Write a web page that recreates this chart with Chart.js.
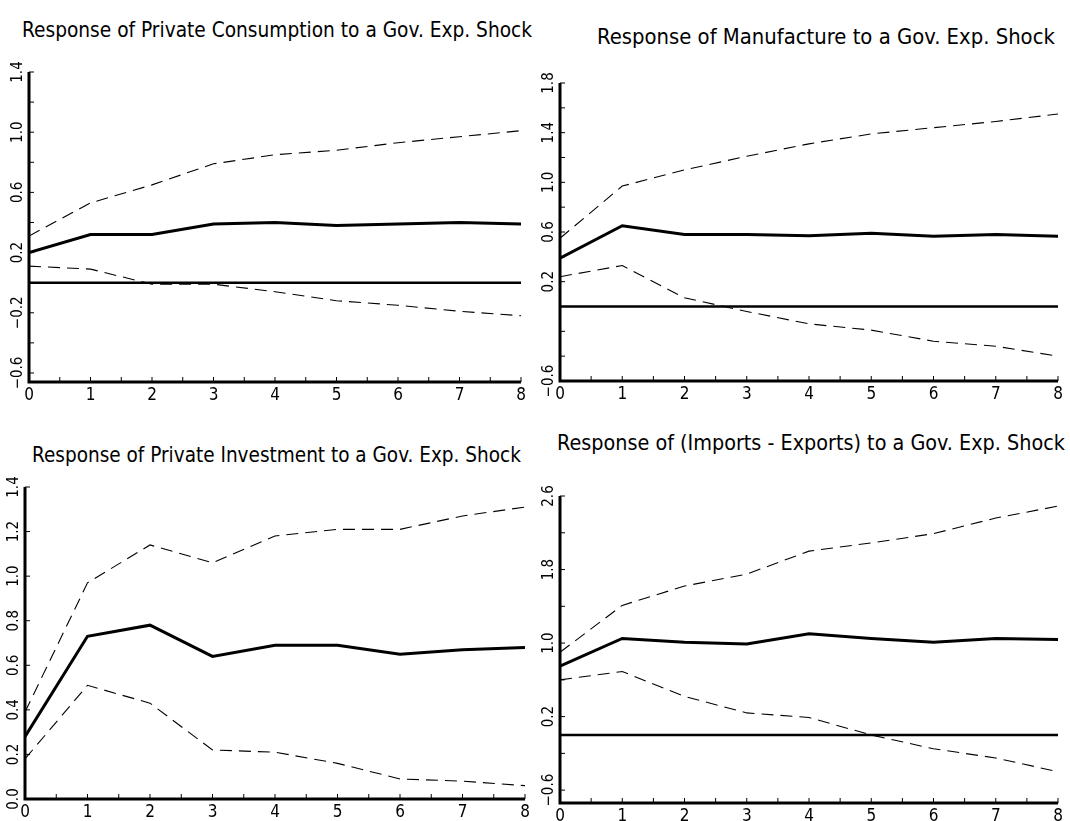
<!DOCTYPE html>
<html>
<head>
<meta charset="utf-8">
<script src="https://cdn.jsdelivr.net/npm/chart.js@4.4.0/dist/chart.umd.min.js"></script>
<style>
  body { margin: 0; background: #fff; width: 1070px; height: 821px; position: relative; overflow: hidden; }
  .panel { position: absolute; }
  .title {
    position: absolute; white-space: nowrap; color: #000; transform-origin: 0 50%;
    font-family: "Liberation Sans Narrow", "DejaVu Sans Condensed", "DejaVu Sans", sans-serif;
    font-stretch: condensed; font-size: 21px; line-height: 24px;
  }
</style>
</head>
<body>
<div class="title" data-w="510" style="left:22px;top:18px">Response of Private Consumption to a Gov. Exp. Shock</div>
<div class="title" data-w="458" style="left:597px;top:25px">Response of Manufacture to a Gov. Exp. Shock</div>
<div class="title" data-w="489" style="left:32px;top:443px">Response of Private Investment to a Gov. Exp. Shock</div>
<div class="title" data-w="508" style="left:557px;top:431px">Response of (Imports - Exports) to a Gov. Exp. Shock</div>

<div class="panel" style="left:0;top:0;width:545px;height:410px"><canvas id="c1"></canvas></div>
<div class="panel" style="left:535px;top:0;width:535px;height:410px"><canvas id="c2"></canvas></div>
<div class="panel" style="left:0;top:410px;width:545px;height:411px"><canvas id="c3"></canvas></div>
<div class="panel" style="left:535px;top:410px;width:535px;height:411px"><canvas id="c4"></canvas></div>

<script>
const horizons = [0, 1, 2, 3, 4, 5, 6, 7, 8];

// private consumption
const consResp  = [0.20, 0.32, 0.32, 0.39, 0.40, 0.38, 0.39, 0.40, 0.39];
const consUpper = [0.31, 0.53, 0.65, 0.79, 0.85, 0.88, 0.93, 0.97, 1.01];
const consLower = [0.11, 0.09, -0.01, -0.01, -0.06, -0.12, -0.15, -0.19, -0.22];
const consTicks = [1.4, 1.0, 0.6, 0.2, -0.2, -0.6];

// manufacture
const manuResp  = [0.39, 0.65, 0.58, 0.58, 0.57, 0.59, 0.565, 0.58, 0.565];
const manuUpper = [0.55, 0.97, 1.10, 1.21, 1.31, 1.39, 1.44, 1.49, 1.55];
const manuLower = [0.24, 0.33, 0.07, -0.04, -0.14, -0.19, -0.28, -0.32, -0.40];
const manuTicks = [1.8, 1.4, 1.0, 0.6, 0.2, -0.6];

// private investment
const invResp  = [0.28, 0.73, 0.78, 0.64, 0.69, 0.69, 0.65, 0.67, 0.68];
const invUpper = [0.39, 0.97, 1.14, 1.06, 1.18, 1.21, 1.21, 1.27, 1.31];
const invLower = [0.18, 0.51, 0.43, 0.22, 0.21, 0.16, 0.09, 0.08, 0.06];
const invTicks = [1.4, 1.2, 1.0, 0.8, 0.6, 0.4, 0.2, 0.0];

// imports - exports
const nxResp  = [0.75, 1.05, 1.01, 0.99, 1.10, 1.05, 1.01, 1.05, 1.04];
const nxUpper = [0.90, 1.41, 1.62, 1.75, 2.00, 2.09, 2.19, 2.36, 2.49];
const nxLower = [0.60, 0.69, 0.42, 0.24, 0.19, 0.00, -0.15, -0.25, -0.40];
const nxTicks = [2.6, 1.8, 1.0, 0.2, -0.6];

const FONT = "'Liberation Sans Narrow', 'DejaVu Sans Condensed', 'DejaVu Sans', sans-serif";

const fmt = v => (v < 0 ? "\u2212" : "") + Math.abs(v).toFixed(1);

// stretch titles to the width they have in the original
document.querySelectorAll('.title').forEach(el => {
  const w = +el.dataset.w;
  el.style.transform = `scaleX(${w / el.offsetWidth})`;
});

// axis lines, inward ticks, zero line and rotated y labels
const axesPlugin = {
  id: 'irfAxes',
  beforeDatasetsDraw(chart, args, o) {
    const {ctx, chartArea: a, scales: {x, y}} = chart;
    ctx.save();
    ctx.strokeStyle = '#000';
    if (o.zero) {
      const zy = y.getPixelForValue(0);
      ctx.lineWidth = 2.5;
      ctx.beginPath(); ctx.moveTo(a.left, zy); ctx.lineTo(a.right, zy); ctx.stroke();
    }
    ctx.lineWidth = 1;
    ctx.beginPath();
    for (let v = 0; v <= 8; v += 0.5) {
      const px = x.getPixelForValue(v);
      ctx.moveTo(px, a.bottom); ctx.lineTo(px, a.bottom - 5);
    }
    for (let k = 0; ; k++) {
      const v = o.tickFrom + k * o.tickStep;
      if (v > y.max + 1e-6) break;
      const py = y.getPixelForValue(v);
      ctx.moveTo(a.left, py); ctx.lineTo(a.left + 5, py);
    }
    ctx.stroke();
    ctx.lineWidth = 3;
    ctx.beginPath();
    ctx.moveTo(a.left, a.top); ctx.lineTo(a.left, a.bottom); ctx.lineTo(a.right, a.bottom);
    ctx.stroke();
    ctx.restore();
  },
  afterDraw(chart, args, o) {
    const {ctx, chartArea: a, scales: {y}} = chart;
    ctx.save();
    ctx.fillStyle = '#000';
    ctx.font = '15px ' + FONT;
    ctx.textAlign = 'center';
    ctx.textBaseline = 'middle';
    o.labels.forEach(v => {
      ctx.save();
      ctx.translate(a.left - 11, y.getPixelForValue(v));
      ctx.rotate(-Math.PI / 2);
      ctx.fillText(fmt(v), 0, 0);
      ctx.restore();
    });
    ctx.restore();
  }
};

function makePanel(id, resp, upper, lower, cfg) {
  const pts = arr => horizons.map((h, i) => ({x: h, y: arr[i]}));
  const band = arr => ({
    data: pts(arr), borderColor: '#000', borderWidth: 1.1,
    borderDash: [12, 7], pointRadius: 0, tension: 0, fill: false
  });
  new Chart(document.getElementById(id), {
    type: 'line',
    data: {
      datasets: [
        {data: pts(resp), borderColor: '#000', borderWidth: 3, pointRadius: 0, tension: 0, fill: false},
        band(upper),
        band(lower)
      ]
    },
    options: {
      responsive: true,
      maintainAspectRatio: false,
      animation: false,
      layout: {padding: {top: cfg.top, right: cfg.right, left: 0, bottom: 0}},
      plugins: {
        legend: {display: false},
        tooltip: {enabled: false},
        irfAxes: {zero: cfg.zero, labels: cfg.labels, tickFrom: cfg.tickFrom, tickStep: cfg.tickStep}
      },
      scales: {
        x: {
          type: 'linear', min: 0, max: 8,
          grid: {display: false, drawTicks: false},
          border: {display: false},
          ticks: {stepSize: 1, padding: 3, color: '#000', font: {family: FONT, size: 17}},
          afterFit: s => { s.height = cfg.xh; }
        },
        y: {
          type: 'linear', min: cfg.min, max: cfg.max,
          grid: {display: false, drawTicks: false},
          border: {display: false},
          ticks: {display: false},
          afterFit: s => { s.width = cfg.yw; }
        }
      }
    },
    plugins: [axesPlugin]
  });
}

makePanel('c1', consResp, consUpper, consLower,
  {min: -0.66, max: 1.4, labels: consTicks, tickFrom: -0.6, tickStep: 0.2, zero: true, top: 72, right: 24, xh: 28, yw: 29});
makePanel('c2', manuResp, manuUpper, manuLower,
  {min: -0.6, max: 1.8, labels: manuTicks, tickFrom: -0.6, tickStep: 0.2, zero: true, top: 83, right: 12, xh: 29, yw: 25});
makePanel('c3', invResp, invUpper, invLower,
  {min: 0, max: 1.4, labels: invTicks, tickFrom: 0, tickStep: 0.2, zero: false, top: 77, right: 20, xh: 22, yw: 25});
makePanel('c4', nxResp, nxUpper, nxLower,
  {min: -0.74, max: 2.6, labels: nxTicks, tickFrom: -0.6, tickStep: 0.4, zero: true, top: 86, right: 12, xh: 18, yw: 25});
</script>
</body>
</html>
